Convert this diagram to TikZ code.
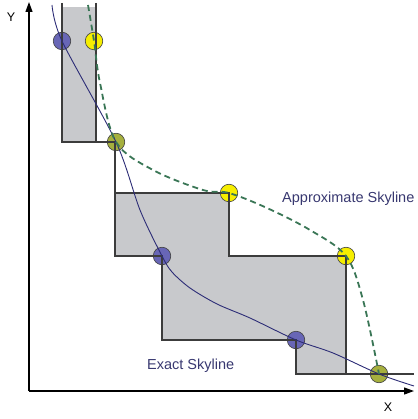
\documentclass[tikz,border=0pt]{standalone}
\usepackage{fontspec}
\setmainfont{Liberation Sans}
\usetikzlibrary{arrows.meta}
\definecolor{regiongray}{RGB}{200,201,204}
\definecolor{edgegray}{RGB}{60,60,60}
\definecolor{exactblue}{RGB}{104,102,182}
\definecolor{approxyellow}{RGB}{246,238,0}
\definecolor{bothgreen}{RGB}{166,176,62}
\definecolor{curveblue}{RGB}{44,44,118}
\definecolor{dashgreen}{RGB}{58,118,86}
\definecolor{labelblue}{RGB}{56,56,112}

\begin{document}
\begin{tikzpicture}[x=1pt, y=-1pt,
		edge/.style={edgegray, line width=1.1pt},
		pt/.style={circle, draw=black!75, line width=0.6pt, minimum size=17.5pt, inner sep=0pt},
		exact/.style={pt, fill=exactblue},
		approx/.style={pt, fill=approxyellow},
		both/.style={pt, fill=bothgreen},
		lbl/.style={labelblue, inner sep=0pt, font=\fontsize{14.5}{17}\selectfont}]
		\useasboundingbox (0,0) rectangle (417,419);
		% Dominated regions
		\fill[regiongray] (62,7) rectangle (96,142);
		\fill[regiongray] (115,193) -- (229,193) -- (229,256) -- (346,256) -- (346,374)
			-- (296,374) -- (296,340) -- (162,340) -- (162,256) -- (115,256) -- cycle;
		% Skyline points
		\node[exact] (e1) at (62,41) {};
		\node[approx] (a1) at (94,41) {};
		\node[both] (b1) at (116,142) {};
		\node[approx] (a2) at (229,193) {};
		\node[exact] (e2) at (162,256) {};
		\node[approx] (a3) at (346,256) {};
		\node[exact] (e3) at (296,340) {};
		\node[both] (b2) at (379,374) {};
		% Region borders
		\draw[edge] (62,3) -- (62,142) -- (115,142) -- (115,256) -- (162,256) -- (162,340)
			-- (296,340) -- (296,374) -- (414,374);
		\draw[edge] (96,3) -- (96,142);
		\draw[edge] (115,193) -- (229,193) -- (229,256) -- (346,256) -- (346,374);
		% Draw axes
		\draw[line width=1.2pt, -{Triangle[length=10pt, width=7pt]}] (29,391) -- (29,2);
		\draw[line width=1.2pt, -{Triangle[length=10pt, width=7pt]}] (29,391) -- (414,391);
		\node (ylbl) at (11,17) {\fontsize{12.5}{15}\selectfont Y};
		\node (xlbl) at (388,407) {\fontsize{12.5}{15}\selectfont X};
		% Exact skyline
		\draw[curveblue, line width=0.9pt] plot[smooth, tension=0.5] coordinates
			{(52,5) (e1.center) (b1.center) (140,210) (e2.center) (172,272) (190,288)
			(217,304) (250,318) (e3.center) (333,353) (b2.center) (414,386)};
		% Approximate skyline
		\draw[dashgreen, line width=1.8pt, dash pattern=on 6pt off 4pt] plot[smooth, tension=0.55] coordinates
			{(88,5) (a1.center) (100,83) (b1.center) (153,170) (203,190) (a2.center)
			(267,208) (310,230) (a3.center) (363,300) (b2.center)};
		% Labels
		\node[lbl, anchor=base west] (approxlbl) at (282,203) {Approximate Skyline};
		\node[lbl, anchor=base west] (exactlbl) at (147,369) {Exact Skyline};
	\end{tikzpicture}
\end{document}
